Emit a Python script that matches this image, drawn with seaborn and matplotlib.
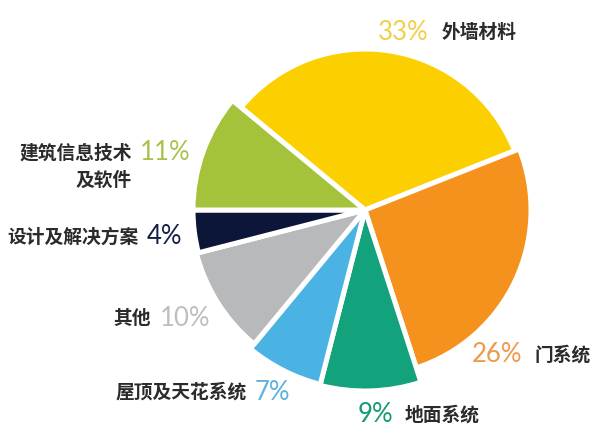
import matplotlib
matplotlib.use("Agg")
import matplotlib.pyplot as plt
import seaborn as sns

# data, clockwise from the upper left
categories = ["外墙材料", "门系统", "地面系统", "屋顶及天花系统", "其他", "设计及解决方案", "建筑信息技术\n及软件"]
shares = [33, 26, 9, 7, 10, 4, 11]
pct_labels = ["33%", "26%", "9%", "7%", "10%", "4%", "11%"]

slice_colors = ["#FCD000", "#F5921E", "#12A37C", "#4AB3E4", "#B8B9BB", "#0B1638", "#A4C23A"]
text_colors = ["#F0CF4A", "#EE9A4C", "#159A78", "#5DB2DE", "#BDBEC0", "#142046", "#A9C24C"]
# each wedge sticks out a little differently in the original
radius_px = [161, 166, 181, 180, 174, 172, 172]

sns.set_theme(style="white")
plt.rcParams["font.family"] = ["Noto Sans CJK SC", "DejaVu Sans"]

W, H = 600, 442
fig = plt.figure(figsize=(6, 4.42), dpi=100)
ax = fig.add_axes([0, 0, 1, 1])

cx, cy = 365, H - 210
wedges, _ = ax.pie(shares, colors=sns.color_palette(slice_colors), startangle=140.4,
                   counterclock=False, center=(cx, cy), radius=160,
                   wedgeprops=dict(edgecolor="white", linewidth=3.6, joinstyle="round"))
for w, rr in zip(wedges, radius_px):
    w.set_radius(rr)
ax.set_xlim(0, W)
ax.set_ylim(0, H)
ax.set_aspect("equal")
ax.axis("off")

# label layout (pixel positions, y from top): (x_pct, x_name, y, name on left?)
layout = [
    (378, 442, 32, False),
    (472, 535, 355, False),
    (358, 405, 415, False),
    (255, 247, 392, True),
    (160, 151, 318, True),
    (147, 139, 237, True),
    (140, 132, 153, True),
]

pfont = dict(family=["Lato", "DejaVu Sans"], fontweight="normal", fontsize=18.5)
nfont = dict(fontsize=13.5, fontweight="bold", color="#2b2b2b")

for name, pct, tc, (xp, xn, y, left) in zip(categories, pct_labels, text_colors, layout):
    ax.text(xp, H - y, pct, color=tc, ha="left", va="center", **pfont)
    if left:
        if "\n" in name:
            first, second = name.split("\n")
            ax.text(xn, H - y, first, ha="right", va="center", **nfont)
            ax.text(xn, H - y - 27, second, ha="right", va="center", **nfont)
        else:
            ax.text(xn, H - y, name, ha="right", va="center", **nfont)
    else:
        ax.text(xn, H - y, name, ha="left", va="center", **nfont)

fig.savefig("out.png", dpi=100, facecolor="white")
